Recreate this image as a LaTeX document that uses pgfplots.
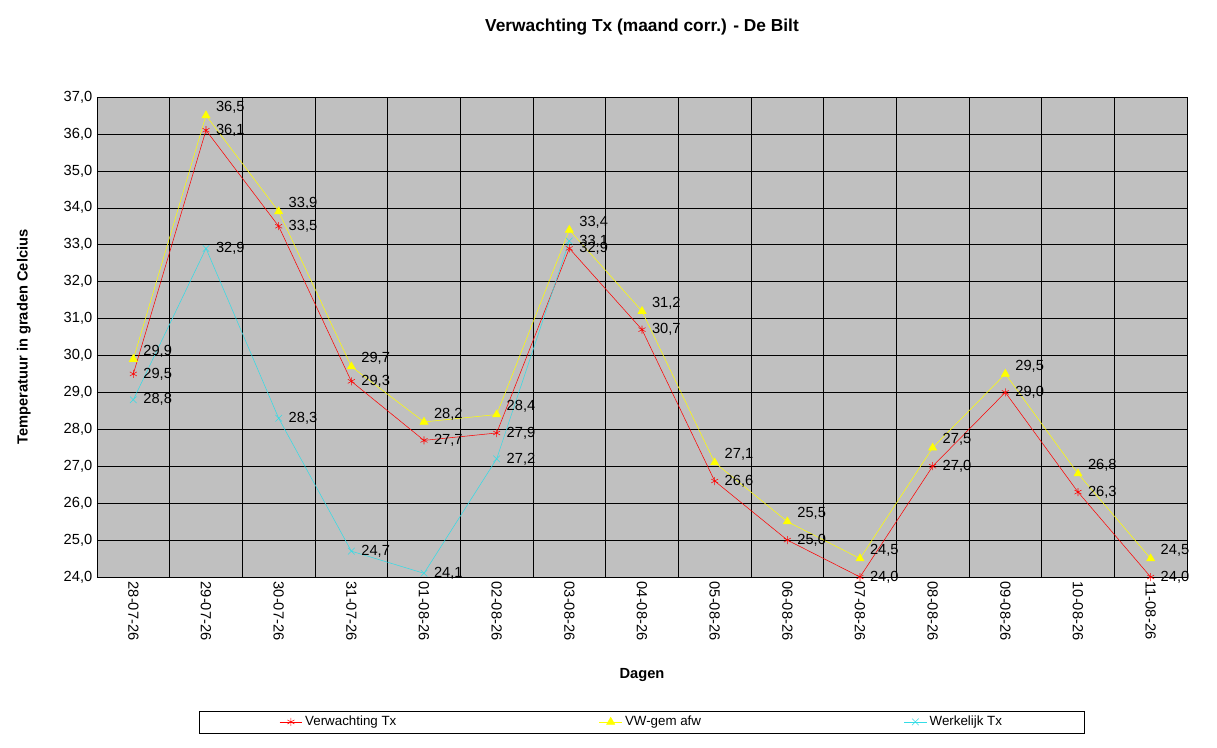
\documentclass[border=0pt]{standalone}
\usepackage{pgfplots}
\pgfplotsset{compat=1.18}
\usepackage{fontspec}
\setmainfont{Liberation Sans}
\definecolor{bg}{RGB}{192,192,192}
\definecolor{cy}{RGB}{51,220,230}
\definecolor{yl}{RGB}{255,255,0}
\begin{document}
\begin{tikzpicture}[x=0.75pt,y=0.75pt]
\begin{axis}[
  scale only axis, width=817.5pt, height=360pt,
  xmin=-0.5, xmax=14.5, ymin=24, ymax=37,
  xtick={0,...,14},
  xticklabels={28-07-26,29-07-26,30-07-26,31-07-26,01-08-26,02-08-26,03-08-26,04-08-26,05-08-26,06-08-26,07-08-26,08-08-26,09-08-26,10-08-26,11-08-26},
  extra x ticks={-0.5,0.5,...,14.5}, extra x tick labels={},
  extra x tick style={grid=major, major grid style={black}},
  xticklabel style={rotate=-90, anchor=west, font=\fontsize{11}{13}\selectfont},
  ytick={24,...,37},
  yticklabel style={/pgf/number format/fixed, /pgf/number format/fixed zerofill, /pgf/number format/precision=1, /pgf/number format/use comma, /pgf/number format/assume math mode=true, font=\fontsize{11}{13}\selectfont},
  ymajorgrids, major grid style={black},
  major tick length=0pt,
  axis background/.style={fill=bg},
  axis line style={black},
  title={\bfseries Verwachting Tx (maand corr.) - De Bilt},
  title style={font=\fontsize{13}{15}\selectfont, at={(rel axis cs:0.5,1.13)}, anchor=center},
  xlabel={\bfseries Dagen}, ylabel={\bfseries Temperatuur in graden Celcius},
  xlabel style={font=\fontsize{11}{13}\selectfont, at={(rel axis cs:0.5,-0.205)}, anchor=center},
  ylabel style={font=\fontsize{11}{13}\selectfont, at={(rel axis cs:-0.067,0.5)}, anchor=center},
  clip=false,
  nodes near coords, point meta=explicit symbolic,
  every node near coord/.style={anchor=west, font=\fontsize{11}{13}\selectfont, xshift=4pt, text=black},
  legend columns=3,
  legend style={at={(rel axis cs:0.5,-0.302)}, anchor=center, draw=black, font=\fontsize{10}{12}\selectfont,
    /tikz/every even column/.append style={column sep=150pt}, inner xsep=60pt},
]
\addplot[red, mark=asterisk, mark size=3pt] coordinates {
(0,29.5)[29,5] (1,36.1)[36,1] (2,33.5)[33,5] (3,29.3)[29,3] (4,27.7)[27,7] (5,27.9)[27,9] (6,32.9)[32,9] (7,30.7)[30,7] (8,26.6)[26,6] (9,25.0)[25,0] (10,24.0)[24,0] (11,27.0)[27,0] (12,29.0)[29,0] (13,26.3)[26,3] (14,24.0)[24,0]};
\addlegendentry{Verwachting Tx}
\addplot[yl, mark=triangle*, mark size=3.5pt, every node near coord/.append style={yshift=6pt}] coordinates {
(0,29.9)[29,9] (1,36.5)[36,5] (2,33.9)[33,9] (3,29.7)[29,7] (4,28.2)[28,2] (5,28.4)[28,4] (6,33.4)[33,4] (7,31.2)[31,2] (8,27.1)[27,1] (9,25.5)[25,5] (10,24.5)[24,5] (11,27.5)[27,5] (12,29.5)[29,5] (13,26.8)[26,8] (14,24.5)[24,5]};
\addlegendentry{VW-gem afw}
\addplot[cy, mark=x, mark size=3.5pt] coordinates {
(0,28.8)[28,8] (1,32.9)[32,9] (2,28.3)[28,3] (3,24.7)[24,7] (4,24.1)[24,1] (5,27.2)[27,2] (6,33.1)[33,1]};
\addlegendentry{Werkelijk Tx}
\path (rel axis cs:-0.08899,-0.35417) rectangle (rel axis cs:1.02752,1.20208);
\end{axis}
\end{tikzpicture}
\end{document}
